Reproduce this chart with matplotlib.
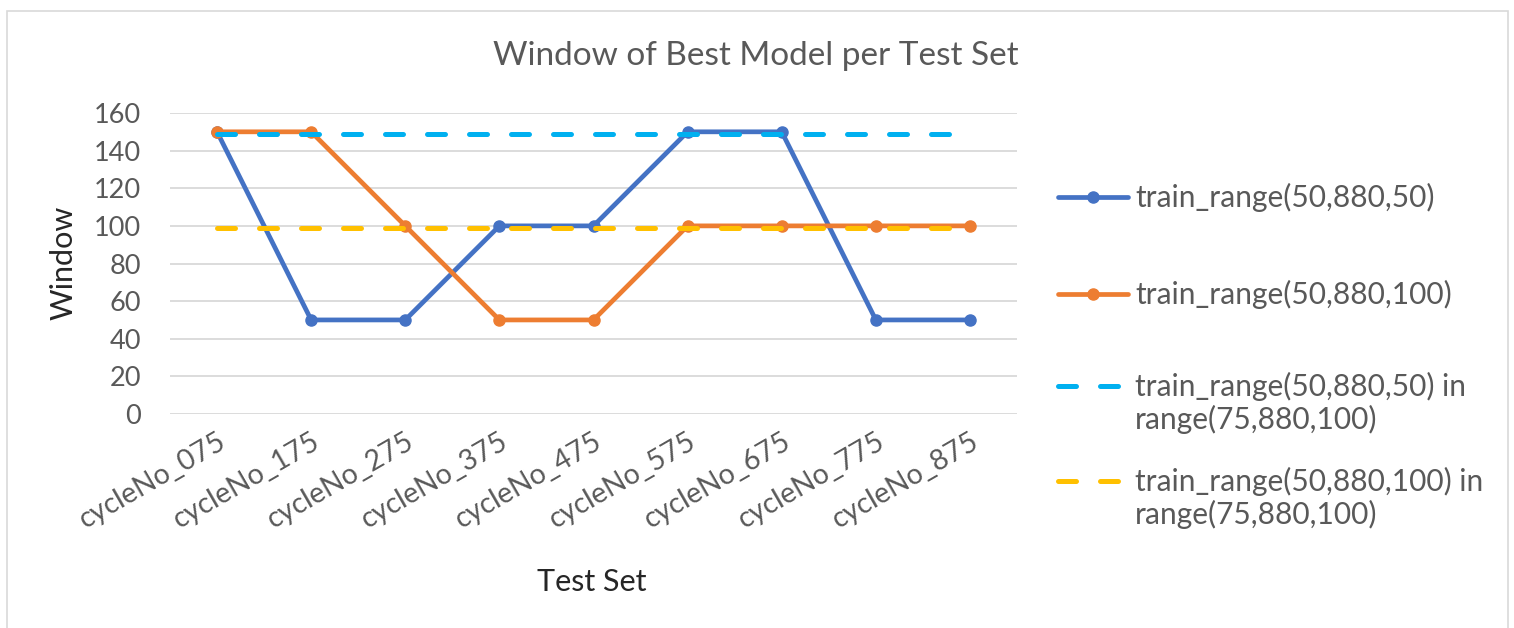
import matplotlib
matplotlib.use("Agg")
import matplotlib.pyplot as plt
from matplotlib.lines import Line2D
from matplotlib.patches import Rectangle

plt.rcParams['font.family'] = ['Lato', 'DejaVu Sans']

# Test sets and the best window found for each
test_sets = ["cycleNo_075", "cycleNo_175", "cycleNo_275", "cycleNo_375", "cycleNo_475",
             "cycleNo_575", "cycleNo_675", "cycleNo_775", "cycleNo_875"]
win_step50 = [150, 50, 50, 100, 100, 150, 150, 50, 50]
win_step100 = [150, 150, 100, 50, 50, 100, 100, 100, 100]
win_step50_in_range = [149] * 9
win_step100_in_range = [99] * 9

labels = ["train_range(50,880,50)",
          "train_range(50,880,100)",
          "train_range(50,880,50) in\nrange(75,880,100)",
          "train_range(50,880,100) in\nrange(75,880,100)"]
colors = ["#4472C4", "#ED7D31", "#00B0F0", "#FFC000"]
text_grey = "#595959"

W, H = 1514, 628
fig = plt.figure(figsize=(W / 100, H / 100), dpi=100)
fig.patch.set_facecolor("white")

# chart border
fig.add_artist(Rectangle((7 / W, -0.05), 1501 / W, 1.05 - 11 / H, transform=fig.transFigure,
                         fill=False, edgecolor="#D9D9D9", linewidth=1.2))

ax = fig.add_axes([170 / W, 1 - 414 / H, 847 / W, 301 / H])
x = list(range(len(test_sets)))

solid = dict(linewidth=3.4, marker="o", markersize=8, solid_capstyle="round",
             solid_joinstyle="round")
dashed = dict(linewidth=3.6, linestyle=(0, (3.6, 4.8)), dash_capstyle="round")

ax.plot(x, win_step50, color=colors[0], zorder=3, **solid)
ax.plot(x, win_step100, color=colors[1], zorder=4, **solid)
ax.plot(x, win_step50_in_range, color=colors[2], zorder=5, **dashed)
ax.plot(x, win_step100_in_range, color=colors[3], zorder=6, **dashed)

ax.set_xlim(-0.5, len(test_sets) - 0.5)
ax.set_ylim(0, 160)
ax.set_yticks(range(0, 161, 20))
ax.yaxis.grid(True, color="#D9D9D9", linewidth=1.3)
ax.set_axisbelow(True)
for s in ax.spines.values():
    s.set_visible(False)
ax.set_xticks(x)
ax.set_xticklabels(test_sets, rotation=30, ha="right", va="top", rotation_mode="anchor")
ax.tick_params(axis="x", length=0, pad=10, labelsize=20.5, colors=text_grey)
ax.tick_params(axis="y", length=0, pad=21, labelsize=19.5, colors=text_grey)

fig.text(756 / W, 1 - 56 / H, "Window of Best Model per Test Set", ha="center", va="center",
         fontsize=24, color=text_grey)
fig.text(64 / W, 1 - 263 / H, "Window", rotation=90, ha="center", va="center",
         fontsize=22, color="#262626")
fig.text(592 / W, 1 - 582 / H, "Test Set", ha="center", va="center",
         fontsize=22, color="#262626")

# legend entries: handle y, text block centre y
entry_y = [197, 294, 386, 481]
text_y = [197, 294, 403, 498]
for i, (c, lab) in enumerate(zip(colors, labels)):
    yf = 1 - entry_y[i] / H
    if i < 2:
        fig.add_artist(Line2D([1058 / W, 1128 / W], [yf, yf], color=c, linewidth=3.4,
                              solid_capstyle="round", transform=fig.transFigure))
        fig.add_artist(Line2D([1093 / W], [yf], color=c, marker="o", markersize=8,
                              transform=fig.transFigure))
    else:
        fig.add_artist(Line2D([1058 / W, 1120 / W], [yf, yf], color=c, linewidth=3.6,
                              linestyle=(0, (3.6, 4.8)), dash_capstyle="round",
                              transform=fig.transFigure))
    fig.text(1135 / W, 1 - text_y[i] / H, lab, ha="left", va="center",
             fontsize=21.5, color=text_grey, linespacing=1.15)

fig.savefig("out.png", dpi=100)
